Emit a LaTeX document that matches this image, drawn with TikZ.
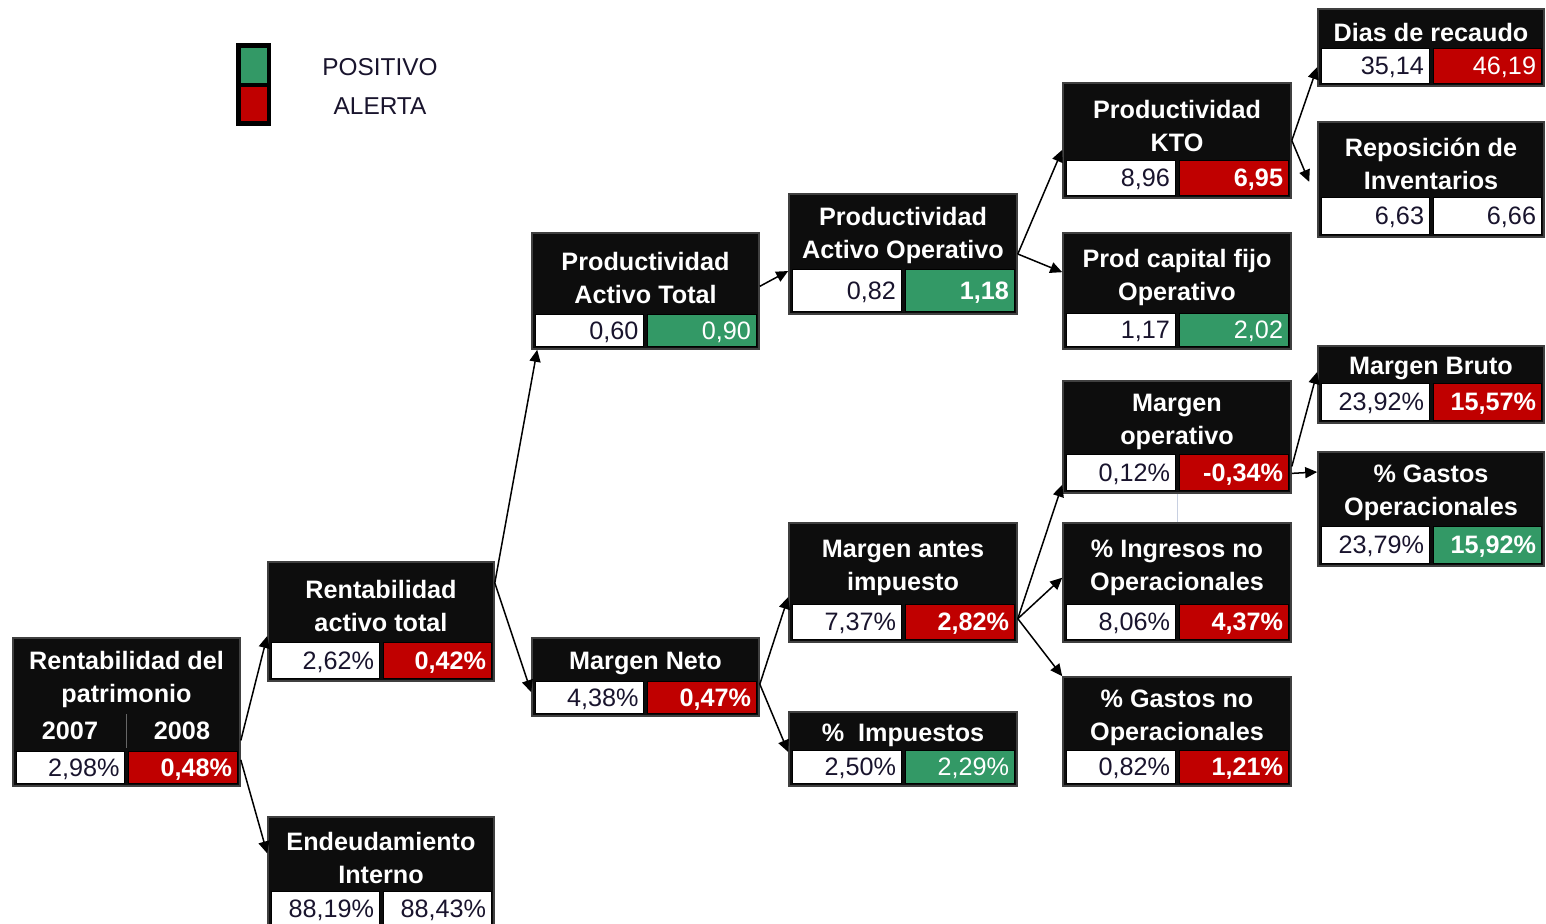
\documentclass[tikz,border=0pt]{standalone}
\usepackage{fontspec}
\setmainfont{Liberation Sans}
\usetikzlibrary{arrows.meta,calc,fit}
\definecolor{kred}{RGB}{192,0,0}
\definecolor{kgreen}{RGB}{51,153,102}
\definecolor{kblack}{RGB}{13,13,13}
\definecolor{knavy}{RGB}{25,20,45}
\definecolor{kfaint}{RGB}{200,208,225}
\tikzset{
  x=0.5pt, y=-0.5pt,
  kframe/.style={draw=black!75, fill=kblack, line width=0.8pt, inner sep=0pt},
  cell/.style={draw=black, line width=0.4pt, inner sep=0pt},
  ttl/.style={text=white, align=center, inner sep=0pt, font=\fontsize{12.6}{16.5}\selectfont\bfseries},
  vtxt/.style={anchor=east, inner sep=0pt, text height=9pt, text depth=0pt, text=knavy, font=\fontsize{12.6}{15}\selectfont},
  legtxt/.style={inner sep=0pt, text=knavy, font=\fontsize{12.2}{15}\selectfont},
  conn/.style={draw=black, line width=0.75pt, -{Triangle[length=6pt,width=5.5pt]}},
  faint/.style={draw=kfaint, line width=0.5pt}
}
\newcommand\kbox[7]{%
  \gdef\kname{#1}\gdef\kxa{#2}\gdef\kya{#3}\gdef\kxb{#4}\gdef\kyb{#5}\gdef\kyv{#6}%
  \node[kframe, fit={(#2,#3) (#4,#5)}] (#1) {};
  \node[ttl, yshift=-2pt] (#1-t) at ($(#2,#3)!0.5!(#4,#6)$) {#7};
}
\newcommand\kvals[4]{%
  \pgfmathsetmacro\kxm{(\kxa+\kxb)/2}%
  \node[cell, fill=white, fit={({\kxa+3},\kyv) ({\kxm-2},{\kyb-3})}] (\kname-a) {};
  \node[vtxt] (\kname-av) at ([xshift=-2.5pt]\kname-a.east) {#1};
  \node[cell, fill=#2, fit={({\kxm+2},\kyv) ({\kxb-3},{\kyb-3})}] (\kname-b) {};
  \node[vtxt] (\kname-bv) at ([xshift=-2.5pt]\kname-b.east) {#4#3};
}
\newcommand\kwbold{\color{white}\bfseries}
\newcommand\kwreg{\color{white}}
\begin{document}
\begin{tikzpicture}
\useasboundingbox[fill=white] (0,0) rectangle (1546,923);

% legend
\node[draw=black, line width=1pt, fill=black, inner sep=0pt, fit={(237,44) (270,125)}] (leg) {};
\node[inner sep=0pt, fill=kgreen, fit={(241,48) (267,83)}] (leg-g) {};
\node[inner sep=0pt, fill=kred, fit={(241,87) (267,121)}] (leg-r) {};
\node[legtxt] (pos) at (380,67) {POSITIVO};
\node[legtxt] (ale) at (380,106) {ALERTA};

% boxes
\kbox{rdp}{13}{638}{240}{786}{713}{Rentabilidad del\\patrimonio}
\gdef\kyv{751}
\kvals{2,98\%}{kred}{0,48\%}{\kwbold}
\node[ttl] (rdp-y1) at (70,731) {2007};
\node[ttl] (rdp-y2) at (182,731) {2008};
\draw[draw=black!60, line width=0.5pt] (126.5,714) -- (126.5,748);

\kbox{rat}{268}{562}{494}{681}{642}{Rentabilidad\\activo total}
\kvals{2,62\%}{kred}{0,42\%}{\kwbold}

\kbox{end}{268}{817}{494}{928}{891}{Endeudamiento\\Interno}
\kvals{88,19\%}{white}{88,43\%}{}

\kbox{pat}{532}{233}{759}{349}{314}{Productividad\\Activo Total}
\kvals{0,60}{kgreen}{0,90}{\kwreg}

\kbox{mn}{532}{638}{759}{716}{681}{Margen Neto}
\kvals{4,38\%}{kred}{0,47\%}{\kwbold}

\kbox{pao}{789}{194}{1017}{314}{269}{Productividad\\Activo Operativo}
\kvals{0,82}{kgreen}{1,18}{\kwbold}

\kbox{mai}{789}{523}{1017}{642}{604}{Margen antes\\impuesto}
\kvals{7,37\%}{kred}{2,82\%}{\kwbold}

\kbox{imp}{789}{712}{1017}{786}{750}{\%\ \ Impuestos}
\kvals{2,50\%}{kgreen}{2,29\%}{\kwreg}

\kbox{kto}{1063}{83}{1291}{198}{160}{Productividad\\KTO}
\kvals{8,96}{kred}{6,95}{\kwbold}

\kbox{pcf}{1063}{233}{1291}{349}{313}{Prod capital fijo\\Operativo}
\kvals{1,17}{kgreen}{2,02}{\kwreg}

\kbox{mo}{1063}{381}{1291}{493}{454}{Margen\\operativo}
\kvals{0,12\%}{kred}{-0,34\%}{\kwbold}

\kbox{ing}{1063}{523}{1291}{642}{604}{\% Ingresos no\\Operacionales}
\kvals{8,06\%}{kred}{4,37\%}{\kwbold}

\kbox{gno}{1063}{677}{1291}{786}{750}{\% Gastos no\\Operacionales}
\kvals{0,82\%}{kred}{1,21\%}{\kwbold}

\kbox{dr}{1318}{9}{1544}{86}{48}{Dias de recaudo}
\kvals{35,14}{kred}{46,19}{\kwreg}

\kbox{rep}{1318}{122}{1544}{237}{197}{Reposición de\\Inventarios}
\kvals{6,63}{white}{6,66}{}

\kbox{mb}{1318}{346}{1544}{423}{383}{Margen Bruto}
\kvals{23,92\%}{kred}{15,57\%}{\kwbold}

\kbox{go}{1318}{452}{1544}{566}{526}{\% Gastos\\Operacionales}
\kvals{23,79\%}{kgreen}{15,92\%}{\kwbold}

% connectors
\draw[conn] ($(rdp.south east)!0.31!(rdp.north east)$) -- ($(rat.north west)!0.62!(rat.south west)$);
\draw[conn] ($(rdp.south east)!0.18!(rdp.north east)$) -- ($(end.north west)!0.33!(end.south west)$);
\draw[conn] ($(rat.north east)!0.18!(rat.south east)$) -- ([xshift=3pt]pat.south west);
\draw[conn] ($(rat.north east)!0.18!(rat.south east)$) -- ($(mn.north west)!0.69!(mn.south west)$);
\draw[conn] ($(pat.north east)!0.46!(pat.south east)$) -- ($(pao.north west)!0.64!(pao.south west)$);
\draw[conn] (pao.east) -- ($(kto.north west)!0.58!(kto.south west)$);
\draw[conn] (pao.east) -- ($(pcf.north west)!0.34!(pcf.south west)$);
\draw[conn] ($(mn.north east)!0.59!(mn.south east)$) -- ($(mai.north west)!0.62!(mai.south west)$);
\draw[conn] ($(mn.north east)!0.59!(mn.south east)$) -- ($(imp.north west)!0.54!(imp.south west)$);
\draw[conn] ($(mai.north east)!0.80!(mai.south east)$) -- ($(mo.north west)!0.92!(mo.south west)$);
\draw[conn] ($(mai.north east)!0.80!(mai.south east)$) -- ($(ing.north west)!0.46!(ing.south west)$);
\draw[conn] ($(mai.north east)!0.80!(mai.south east)$) -- (gno.north west);
\draw[conn] (kto.east) -- ($(dr.north west)!0.75!(dr.south west)$);
\coordinate (repin) at ($(rep.north west)!0.52!(rep.south west)+(-8,0)$);
\draw[conn] (kto.east) -- (repin);
\draw[conn] ($(mo.north east)!0.76!(mo.south east)$) -- ($(mb.north west)!0.34!(mb.south west)$);
\draw[conn] ($(mo.north east)!0.82!(mo.south east)$) -- ($(go.north west)!0.18!(go.south west)$);
\draw[faint] (mo.south) -- (ing.north);
\end{tikzpicture}
\end{document}
